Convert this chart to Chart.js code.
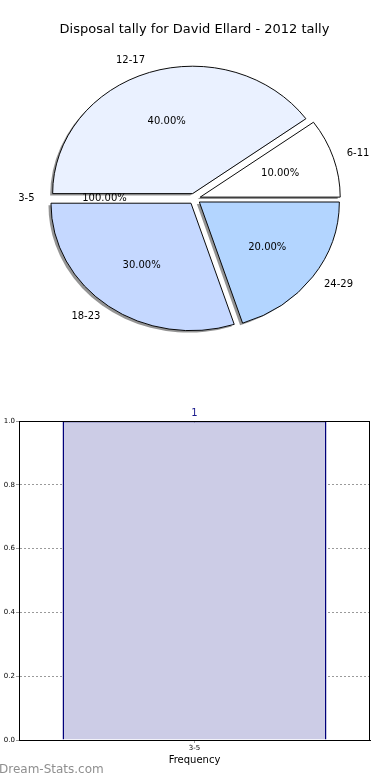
<!DOCTYPE html>
<html>
<head>
<meta charset="utf-8">
<script src="https://cdn.jsdelivr.net/npm/chart.js@4.4.0/dist/chart.umd.min.js"></script>
<style>
  html, body { margin: 0; padding: 0; background: #fff; }
  body { width: 390px; height: 780px; position: relative; overflow: hidden; font-family: "DejaVu Sans", sans-serif; }
  #pieWrap { position: absolute; left: 0; top: 0; width: 390px; height: 380px; }
  #barWrap { position: absolute; left: 0; top: 400px; width: 390px; height: 380px; }
  #marca { position: absolute; left: -1px; top: 762px; font-size: 12px; line-height: 14px; color: #8f8f8f; }
</style>
</head>
<body>
<div id="pieWrap"><canvas id="pie"></canvas></div>
<div id="barWrap"><canvas id="bar"></canvas></div>
<div id="marca">Dream-Stats.com</div>
<script>
(() => {
  const $ = (s) => document.querySelector(s);

  // Datos (orden horario desde el Este, como los dibuja Chart.js)
  const grupos = ['24-29', '18-23', '3-5', '12-17', '6-11'];
  const cuentas = [2, 3, 0, 4, 1];
  const porcentajes = ['20.00%', '30.00%', '100.00%', '40.00%', '10.00%'];

  const barCats = ['3-5'];
  const barVals = [1];
  const barEtiquetas = ['1'];

  // Estilos
  const coloresPie = ['rgb(179,213,255)', 'rgb(197,216,255)', 'rgb(255,255,255)', 'rgb(234,241,255)', 'rgb(255,255,255)'];
  const ESCALA_Y = 0.91, EXPLODE = 6;
  const FUENTE = '"DejaVu Sans", sans-serif';

  const escalar = (ctx, cx, cy) => { ctx.translate(cx, cy); ctx.scale(1, ESCALA_Y); ctx.translate(-cx, -cy); };

  const pieDibujo = {
    id: 'pieDibujo',
    beforeDatasetsDraw(chart) {
      const ctx = chart.ctx;
      const arcs = chart.getDatasetMeta(0).data;
      const cx = arcs[0].x, cy = arcs[0].y;
      // sombra
      ctx.save();
      ctx.translate(-2.5, 2);
      escalar(ctx, cx, cy);
      ctx.fillStyle = 'rgba(0,0,0,0.42)';
      arcs.forEach(a => {
        if (a.endAngle - a.startAngle <= 0) return;
        const m = (a.startAngle + a.endAngle) / 2;
        const ox = cx + Math.cos(m) * EXPLODE, oy = cy + Math.sin(m) * EXPLODE;
        ctx.beginPath(); ctx.moveTo(ox, oy);
        ctx.arc(ox, oy, a.outerRadius, a.startAngle, a.endAngle);
        ctx.closePath(); ctx.fill();
      });
      ctx.restore();
      // porciones separadas
      arcs.forEach(a => {
        const m = (a.startAngle + a.endAngle) / 2;
        ctx.save();
        escalar(ctx, cx, cy);
        ctx.translate(Math.cos(m) * EXPLODE, Math.sin(m) * EXPLODE);
        a.draw(ctx);
        ctx.restore();
      });
      return false;
    },
    afterDraw(chart) {
      const ctx = chart.ctx;
      const arcs = chart.getDatasetMeta(0).data;
      const cx = arcs[0].x, cy = arcs[0].y;
      ctx.save();
      ctx.font = '10px ' + FUENTE;
      ctx.fillStyle = '#000';
      ctx.textBaseline = 'middle';
      arcs.forEach((a, i) => {
        const m = (a.startAngle + a.endAngle) / 2;
        const c = Math.cos(m), s = Math.sin(m), r = a.outerRadius;
        ctx.textAlign = c > 0 ? 'left' : 'right';
        ctx.fillText(grupos[i], cx + c * (1.1 * r + EXPLODE), cy + s * (1.1 * r + EXPLODE) * ESCALA_Y);
        ctx.textAlign = 'center';
        ctx.fillText(porcentajes[i], cx + c * (0.6 * r + EXPLODE), cy + s * (0.6 * r + EXPLODE) * ESCALA_Y);
      });
      ctx.restore();
    }
  };

  new Chart($('#pie'), {
    type: 'pie',
    data: {
      labels: grupos,
      datasets: [{ data: cuentas, backgroundColor: coloresPie, borderColor: '#000', borderWidth: 1 }]
    },
    options: {
      animation: false,
      responsive: true,
      maintainAspectRatio: false,
      rotation: 90,
      radius: 140,
      layout: { padding: { left: 0, right: 1, bottom: 20 } },
      plugins: {
        legend: { display: false },
        tooltip: { enabled: false },
        title: {
          display: true,
          text: 'Disposal tally for David Ellard - 2012 tally',
          color: '#000',
          font: { family: FUENTE, size: 13, weight: 'normal' },
          padding: { top: 22, bottom: 0 }
        }
      }
    },
    plugins: [pieDibujo]
  });

  const marco = {
    id: 'marco',
    afterDraw(chart) {
      const ctx = chart.ctx, a = chart.chartArea;
      ctx.save();
      ctx.strokeStyle = '#000'; ctx.lineWidth = 1;
      ctx.strokeRect(a.left + 0.5, a.top + 0.5, a.right - a.left - 1, a.bottom - a.top);
      const bars = chart.getDatasetMeta(0).data;
      ctx.font = '10px ' + FUENTE;
      ctx.fillStyle = '#1a1a8c';
      ctx.textAlign = 'center';
      ctx.textBaseline = 'bottom';
      bars.forEach((b, i) => ctx.fillText(barEtiquetas[i], b.x, b.y - 3));
      ctx.restore();
    }
  };

  new Chart($('#bar'), {
    type: 'bar',
    data: {
      labels: barCats,
      datasets: [{
        data: barVals,
        backgroundColor: 'rgb(204,204,230)',
        borderColor: '#00007a',
        borderWidth: 1.5,
        barPercentage: 0.752,
        categoryPercentage: 1
      }]
    },
    options: {
      animation: false,
      responsive: true,
      maintainAspectRatio: false,
      layout: { padding: { top: 21, right: 20, left: 0, bottom: 0 } },
      plugins: { legend: { display: false }, tooltip: { enabled: false } },
      scales: {
        x: {
          z: 1,
          grid: { offset: false, color: '#9a9a9a', tickLength: 3 },
          border: { display: true, color: '#000', dash: [2, 2] },
          ticks: { font: { family: FUENTE, size: 7 }, color: '#000', padding: 1 },
          title: { display: true, text: 'Frequency', color: '#000', font: { family: FUENTE, size: 10 }, padding: { top: 0, bottom: 14 } },
          afterFit(s) { s.height = 40; }
        },
        y: {
          z: 1,
          min: 0, max: 1,
          grid: { color: '#9a9a9a', tickLength: 3 },
          border: { display: true, color: '#000', dash: [2, 2] },
          ticks: { stepSize: 0.2, callback: v => v.toFixed(1), font: { family: FUENTE, size: 7 }, color: '#000', padding: 1 },
          afterFit(s) { s.width = 19; }
        }
      }
    },
    plugins: [marco]
  });
})();
</script>
</body>
</html>
